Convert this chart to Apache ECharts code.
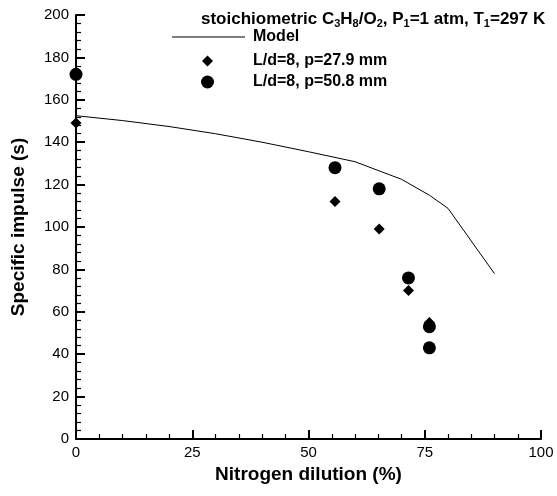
<!DOCTYPE html>
<html>
<head>
<meta charset="utf-8">
<script src="https://cdn.jsdelivr.net/npm/echarts@6/dist/echarts.min.js"></script>
<style>
html,body{margin:0;padding:0;background:#fff;}
#chart{width:557px;height:496px;}
</style>
</head>
<body>
<div id="chart"></div>
<script>
// Data
var modelX = [0, 10, 20, 30, 40, 50, 60, 70, 76, 80, 90];
var modelY = [152.5, 150.2, 147.4, 144, 140, 135.5, 130.8, 122.5, 115, 108.8, 78];
var p279X = [0, 55.7, 65.2, 71.5, 76];
var p279Y = [149, 112, 99, 70, 55];
var p508X = [0, 55.7, 65.2, 71.5, 76, 76];
var p508Y = [172, 128, 118, 76, 53, 43];
var xTicks = [0, 25, 50, 75, 100];
var yTicks = [0, 20, 40, 60, 80, 100, 120, 140, 160, 180, 200];

function pairs(xs, ys) { return xs.map(function (x, i) { return [x, ys[i]]; }); }

var FONT = 'Liberation Sans, Arial, Helvetica, sans-serif';
var legendText = { fontFamily: FONT, fontSize: 16, fontWeight: 'bold', color: '#000' };
var chart = echarts.init(document.getElementById('chart'), null, {renderer: 'canvas'});
chart.setOption({
  backgroundColor: '#fff',
  animation: false,
  title: {
    text: 'stoichiometric C{s|3}H{s|8}/O{s|2}, P{s|1}=1 atm, T{s|1}=297 K',
    left: 201, top: 9, padding: 0,
    textStyle: {
      fontFamily: FONT, fontSize: 17, fontWeight: 'bold', color: '#000', lineHeight: 20,
      rich: { s: { fontFamily: FONT, fontSize: 11, fontWeight: 'bold', color: '#000', verticalAlign: 'bottom', lineHeight: 20 } }
    }
  },
  legend: [
    { data: [{name: 'Model', icon: 'rect'}], left: 172, top: 29, orient: 'vertical', padding: 0, selectedMode: false,
      itemWidth: 73, itemHeight: 1,
      textStyle: Object.assign({}, legendText, { padding: [4, 0, 0, 3] }) },
    { data: [{name: 'L/d=8, p=27.9 mm', icon: 'diamond'}], left: 202, top: 53, orient: 'vertical', padding: 0, selectedMode: false,
      itemWidth: 11, itemHeight: 11,
      textStyle: Object.assign({}, legendText, { padding: [0, 0, 0, 35] }) },
    { data: [{name: 'L/d=8, p=50.8 mm', icon: 'circle'}], left: 201, top: 74, orient: 'vertical', padding: 0, selectedMode: false,
      itemWidth: 13, itemHeight: 13,
      textStyle: Object.assign({}, legendText, { padding: [0, 0, 0, 34] }) }
  ],
  grid: { left: 76, right: 16, top: 15, bottom: 57, containLabel: false },
  xAxis: {
    type: 'value', min: 0, max: 100, interval: 25,
    name: 'Nitrogen dilution (%)', nameLocation: 'middle', nameGap: 23,
    nameTextStyle: { fontFamily: FONT, fontSize: 19, fontWeight: 'bold', color: '#000' },
    axisLine: { show: true, lineStyle: { color: '#000', width: 2 } },
    axisTick: { show: true, inside: true, length: 9, lineStyle: { color: '#000', width: 2 } },
    minorTick: { show: true, splitNumber: 5, length: 5, lineStyle: { color: '#000', width: 1.2 } },
    axisLabel: { fontFamily: FONT, fontSize: 15, color: '#000', margin: 6,
      customValues: xTicks, formatter: function (v) { return String(v); } },
    splitLine: { show: false }
  },
  yAxis: {
    type: 'value', min: 0, max: 200, interval: 20,
    name: 'Specific impulse (s)', nameLocation: 'middle', nameGap: 48, nameRotate: 90,
    nameTextStyle: { fontFamily: FONT, fontSize: 19, fontWeight: 'bold', color: '#000' },
    axisLine: { show: true, lineStyle: { color: '#000', width: 2 } },
    axisTick: { show: true, inside: true, length: 9, lineStyle: { color: '#000', width: 2 } },
    minorTick: { show: true, splitNumber: 5, length: 5, lineStyle: { color: '#000', width: 1.2 } },
    axisLabel: { fontFamily: FONT, fontSize: 15, color: '#000', margin: 7,
      customValues: yTicks, formatter: function (v) { return String(v); } },
    splitLine: { show: false }
  },
  series: [
    { name: 'Model', type: 'line', data: pairs(modelX, modelY), symbol: 'none', clip: false,
      lineStyle: { color: '#000', width: 1 }, itemStyle: { color: '#000' } },
    { name: 'L/d=8, p=27.9 mm', type: 'scatter', data: pairs(p279X, p279Y), symbol: 'diamond', symbolSize: 11, clip: false,
      itemStyle: { color: '#000', opacity: 1 } },
    { name: 'L/d=8, p=50.8 mm', type: 'scatter', data: pairs(p508X, p508Y), symbol: 'circle', symbolSize: 13, clip: false,
      itemStyle: { color: '#000', opacity: 1 } }
  ]
});
</script>
</body>
</html>
